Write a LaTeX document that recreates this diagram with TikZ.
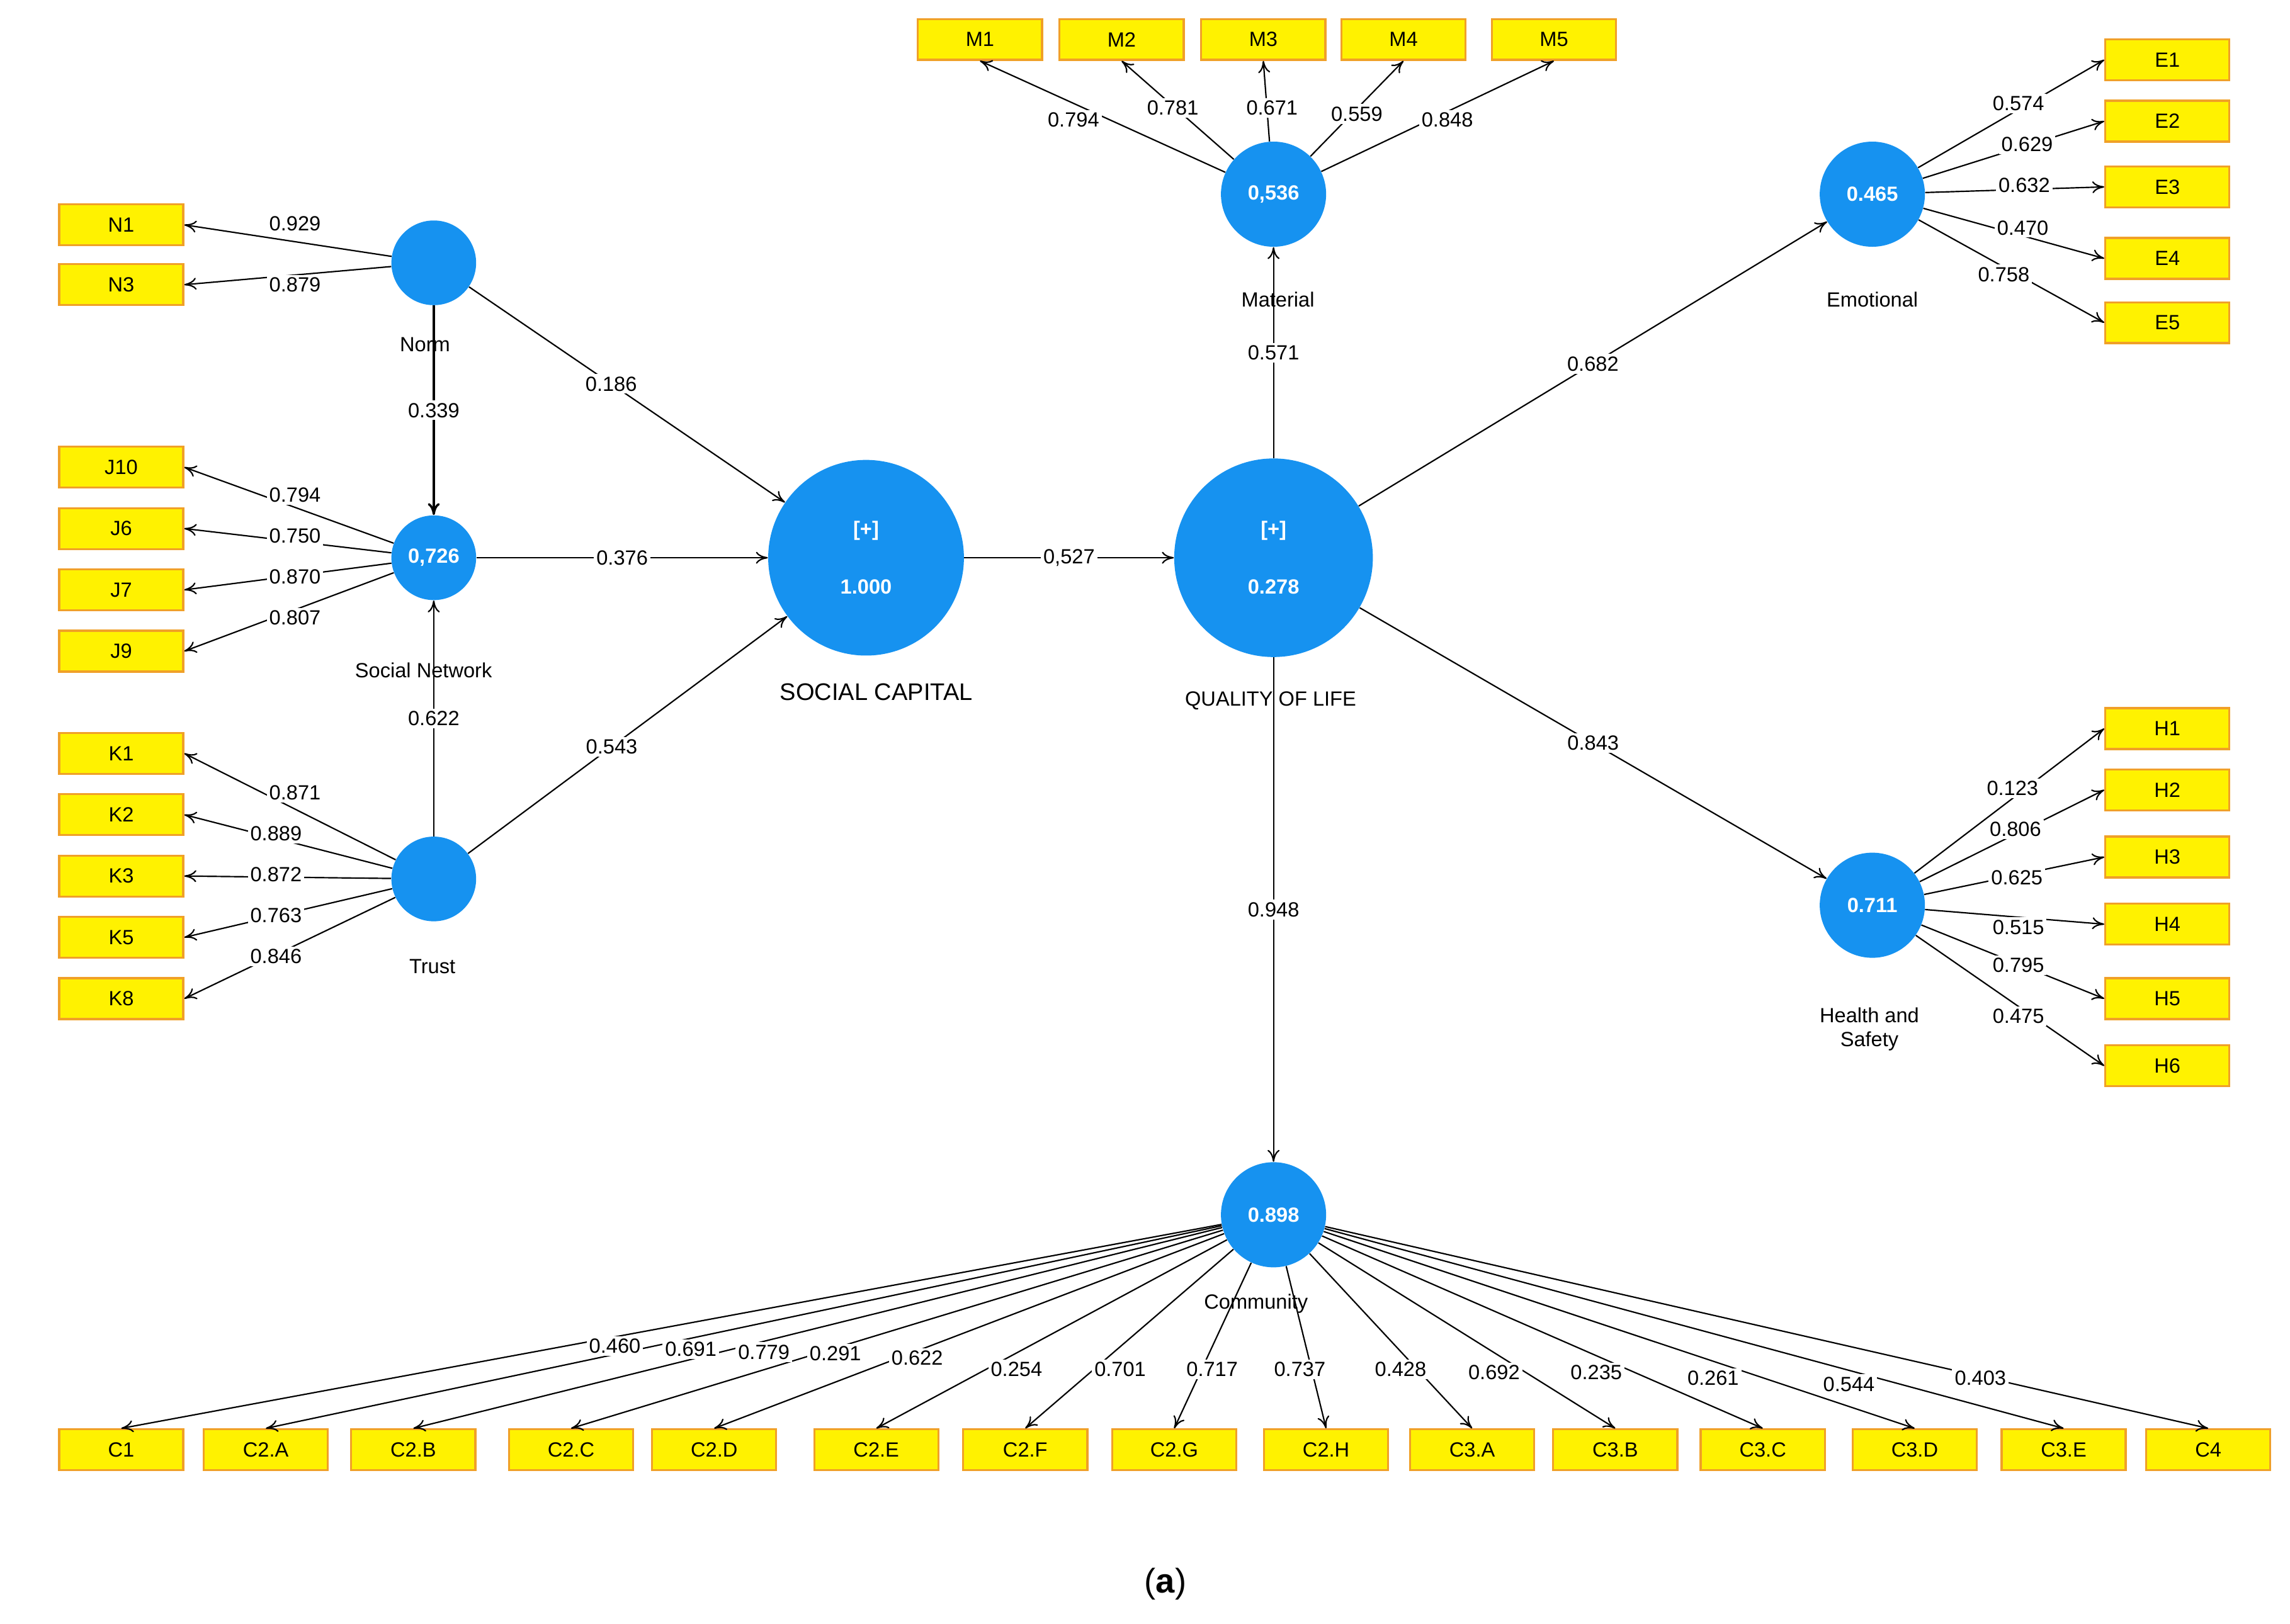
\documentclass[tikz,border=0pt]{standalone}
\usepackage{fontspec}
\setmainfont{Liberation Sans}
\usetikzlibrary{arrows.meta}
\definecolor{lb}{RGB}{22,146,240}
\definecolor{bo}{RGB}{240,160,40}
\begin{document}
\begin{tikzpicture}[x=0.03cm,y=-0.03cm,font=\fontsize{12}{14}\selectfont,
 ind/.style={draw=bo,fill=yellow,line width=1.2pt,minimum width=2.55cm,minimum height=0.84cm,inner sep=0},
 lv/.style={circle,fill=lb,text=white,font=\fontsize{12}{14}\selectfont\bfseries,inner sep=0,align=center},
 arr/.style={-{To[length=7pt,width=7pt]},line width=0.8pt},
 lab/.style={fill=white,inner sep=1.5pt}]
\useasboundingbox (0,0) rectangle (1568,1112);
% latent variables
\node[lv,minimum size=1.74cm] (norm) at (297,180) {};
\node[lv,minimum size=1.74cm] (sn) at (297,382) {0,726};
\node[lv,minimum size=1.74cm] (trust) at (297,602) {};
\node[lv,minimum size=4.02cm] (sc) at (593,382) {[+]\\[0.7cm]1.000};
\node[lv,minimum size=4.08cm] (qol) at (872,382) {[+]\\[0.7cm]0.278};
\node[lv,minimum size=2.16cm] (mat) at (872,133) {0,536};
\node[lv,minimum size=2.16cm] (emo) at (1282,133) {0.465};
\node[lv,minimum size=2.16cm] (hs) at (1282,620) {0.711};
\node[lv,minimum size=2.16cm] (com) at (872,832) {0.898};
% names
\node (tnorm) at (291,236) {Norm};
\node (tsn) at (290,459) {Social Network};
\node (ttrust) at (296,662) {Trust};
\node[font=\fontsize{14}{16}\selectfont] (tsc) at (600,474) {SOCIAL CAPITAL};
\node (tqol) at (870,480) {QUALITY OF LIFE};
\node (tmat) at (875,205) {Material};
\node (temo) at (1282,205) {Emotional};
\node[align=center] (ths) at (1280,705) {Health and\\Safety};
\node (tcom) at (860,893) {Community};
% structural paths
\draw[arr] (norm) -- (sc) node[lab,pos=0.45] {0.186};
\draw[arr] (sn) -- (sc) node[lab,midway] {0.376};
\draw[arr] (trust) -- (sc) node[lab,pos=0.45] {0.543};
\draw[arr,line width=1.3pt] (norm) -- (sn) node[lab,midway] {0.339};
\draw[arr] (trust) -- (sn) node[lab,midway] {0.622};
\draw[arr] (sc) -- (qol) node[lab,midway] {0,527};
\draw[arr] (qol) -- (mat) node[lab,midway] {0.571};
\draw[arr] (qol) -- (emo) node[lab,midway] {0.682};
\draw[arr] (qol) -- (hs) node[lab,midway] {0.843};
\draw[arr] (qol) -- (com) node[lab,midway] {0.948};
% left indicators
\foreach \n/\t/\y/\v/\lx/\ly/\s in {n1/N1/154/0.929/202/153/norm,n3/N3/195/0.879/202/195/norm,
 j10/J10/320/0.794/202/339/sn,j6/J6/362/0.750/202/367/sn,j7/J7/404/0.870/202/395/sn,j9/J9/446/0.807/202/423/sn,
 k1/K1/516/0.871/202/543/trust,k2/K2/558/0.889/189/571/trust,k3/K3/600/0.872/189/599/trust,k5/K5/642/0.763/189/627/trust,k8/K8/684/0.846/189/655/trust}{
 \node[ind] (\n) at (83,\y) {\t};
 \draw[arr] (\s) -- (\n.east);
 \node[lab] at (\lx,\ly) {\v};
}
% material
\foreach \n/\x/\v/\lx/\ly in {m1/671/0.794/735/82,m2/768/0.781/803/74,m3/865/0.671/871/74,m4/961/0.559/929/78,m5/1064/0.848/991/82}{
 \node[ind] (\n) at (\x,27) {\MakeUppercase{\n}};
 \draw[arr] (mat) -- (\n.south);
 \node[lab] at (\lx,\ly) {\v};
}
% emotional
\foreach \n/\t/\y/\v/\lx/\ly in {e1/E1/41/0.574/1382/71,e2/E2/83/0.629/1388/99,e3/E3/128/0.632/1386/127,e4/E4/177/0.470/1385/156,e5/E5/221/0.758/1372/188}{
 \node[ind] (\n) at (1484,\y) {\t};
 \draw[arr] (emo) -- (\n.west);
 \node[lab] at (\lx,\ly) {\v};
}
% health
\foreach \n/\t/\y/\v/\lx/\ly in {h1/H1/499/0.123/1378/540,h2/H2/541/0.806/1380/568,h3/H3/587/0.625/1381/601,h4/H4/633/0.515/1382/635,h5/H5/684/0.795/1382/661,h6/H6/730/0.475/1382/696}{
 \node[ind] (\n) at (1484,\y) {\t};
 \draw[arr] (hs) -- (\n.west);
 \node[lab] at (\lx,\ly) {\v};
}
% community
\foreach \n/\t/\x/\v/\lx/\ly in {c1/C1/83/0.460/421/922,c2a/C2.A/182/0.691/473/924,c2b/C2.B/283/0.779/523/926,c2c/C2.C/391/0.291/572/927,c2d/C2.D/489/0.622/628/930,c2e/C2.E/600/0.254/696/938,c2f/C2.F/702/0.701/767/938,c2g/C2.G/804/0.717/830/938,c2h/C2.H/908/0.737/890/938,c3a/C3.A/1008/0.428/959/938,c3b/C3.B/1106/0.692/1023/940,c3c/C3.C/1207/0.235/1093/940,c3d/C3.D/1311/0.261/1173/944,c3e/C3.E/1413/0.544/1266/948,c4/C4/1512/0.403/1356/944}{
 \node[ind] (\n) at (\x,993) {\t};
 \draw[arr] (com) -- (\n.north);
}
\foreach \v/\lx/\ly in {0.460/421/922,0.691/473/924,0.779/523/926,0.291/572/927,0.622/628/930,0.254/696/938,0.701/767/938,0.717/830/938,0.737/890/938,0.428/959/938,0.692/1023/940,0.235/1093/940,0.261/1173/944,0.544/1266/948,0.403/1356/944}{
 \node[lab] at (\lx,\ly) {\v};
}
\node[font=\fontsize{20}{24}\selectfont\rmfamily] (cap) at (798,1085) {(\textbf{a})};
\end{tikzpicture}
\end{document}
